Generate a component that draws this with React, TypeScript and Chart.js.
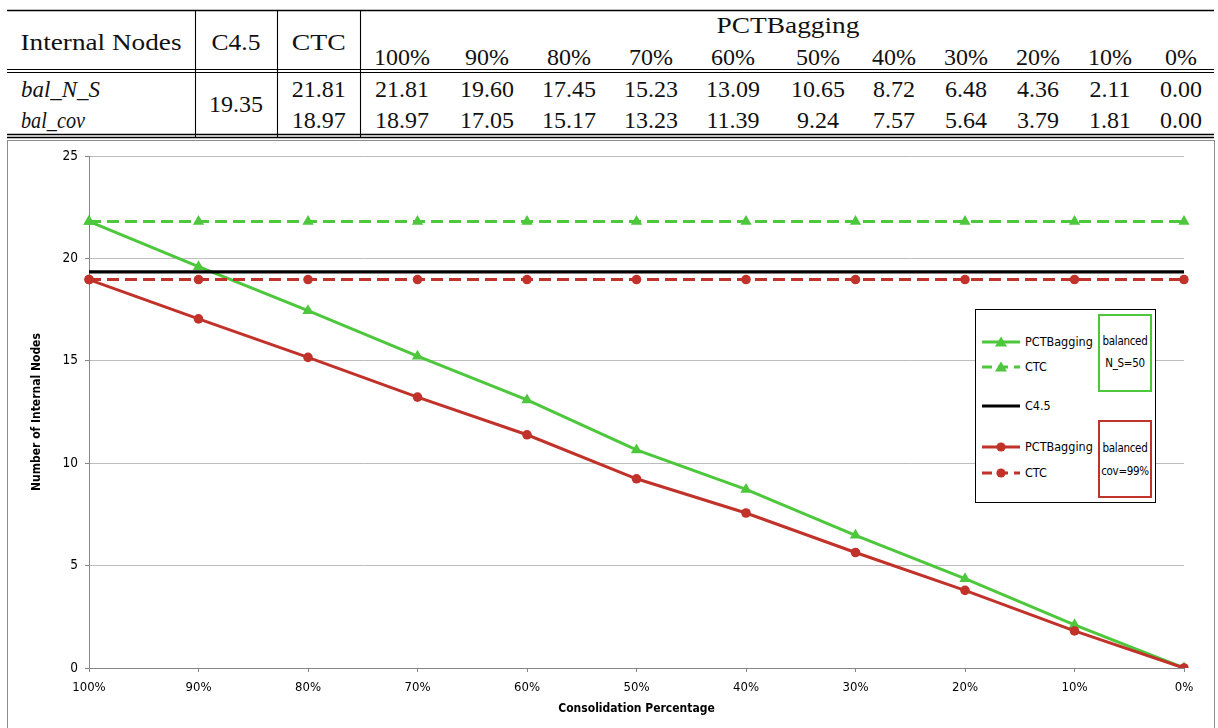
import React, { useEffect, useRef } from 'react';
import { Chart, registerables } from 'chart.js';
Chart.register(...registerables);

// ---------------- data ----------------
const categories = ['100%', '90%', '80%', '70%', '60%', '50%', '40%', '30%', '20%', '10%', '0%'];
const pctBaggingNS = [21.81, 19.6, 17.45, 15.23, 13.09, 10.65, 8.72, 6.48, 4.36, 2.11, 0.0];
const pctBaggingCov = [18.97, 17.05, 15.17, 13.23, 11.39, 9.24, 7.57, 5.64, 3.79, 1.81, 0.0];
const ctcNS = 21.81;
const ctcCov = 18.97;
const c45Value = 19.35;
const rowLabels = ['bal_N_S', 'bal_cov'];
const yTickValues = [0, 5, 10, 15, 20, 25];

// ---------------- style ----------------
const GREEN = '#4DC73C';
const RED = '#C0322A';
const AXIS = '#868686';
const GRID = '#BDBDBD';
const SANS = '"DejaVu Sans Condensed", "DejaVu Sans", sans-serif';
const SERIF = '"Liberation Serif", "DejaVu Serif", serif';

// table layout (page px)
const colX = [402, 487, 569, 651, 733, 818, 894, 966, 1038, 1110, 1181];

const fmt = (v: number) => v.toFixed(2);

function Table() {
  const hl = (y: number, w = 1) => (
    <line x1={7} x2={1214} y1={y} y2={y} stroke="#000" strokeWidth={w} />
  );
  const vl = (x: number) => <line x1={x} x2={x} y1={10} y2={138} stroke="#000" strokeWidth={1.1} />;
  const T = (p: any) => (
    <text fontFamily={SERIF} fontSize={24} fill="#111" {...p} />
  );
  return (
    <svg width={1218} height={140} style={{ position: 'absolute', left: 0, top: 0 }}>
      {hl(10.5, 1.7)}
      {hl(69.5)}
      {hl(72.5)}
      {hl(134.5, 1.4)}
      {hl(137.5, 1.4)}
      {vl(195.5)}
      {vl(277.5)}
      {vl(360.5)}
      <T x={101} y={50} textAnchor="middle" textLength={161} lengthAdjust="spacingAndGlyphs">Internal Nodes</T>
      <T x={236} y={50} textAnchor="middle" textLength={49} lengthAdjust="spacingAndGlyphs">C4.5</T>
      <T x={318.7} y={50} textAnchor="middle" textLength={54} lengthAdjust="spacingAndGlyphs">CTC</T>
      <T x={788} y={33} textAnchor="middle" textLength={143} lengthAdjust="spacingAndGlyphs">PCTBagging</T>
      {categories.map((c, i) => (
        <T key={c} x={colX[i]} y={65} textAnchor="middle">{c}</T>
      ))}
      <T x={21} y={96.7} fontStyle="italic" textLength={79} lengthAdjust="spacingAndGlyphs">{rowLabels[0]}</T>
      <T x={21} y={128.3} fontStyle="italic" textLength={64} lengthAdjust="spacingAndGlyphs">{rowLabels[1]}</T>
      <T x={236} y={112} textAnchor="middle">{fmt(c45Value)}</T>
      <T x={318.7} y={96.7} textAnchor="middle">{fmt(ctcNS)}</T>
      <T x={318.7} y={128.3} textAnchor="middle">{fmt(ctcCov)}</T>
      {pctBaggingNS.map((v, i) => (
        <T key={'a' + i} x={colX[i]} y={96.7} textAnchor="middle">{fmt(v)}</T>
      ))}
      {pctBaggingCov.map((v, i) => (
        <T key={'b' + i} x={colX[i]} y={128.3} textAnchor="middle">{fmt(v)}</T>
      ))}
    </svg>
  );
}

function Sample({ color, dash, marker }: { color: string; dash?: boolean; marker?: 'tri' | 'dot' }) {
  return (
    <svg width={40} height={16} style={{ position: 'absolute', left: 0, top: -8 }}>
      <line x1={1} x2={39} y1={8} y2={8} stroke={color} strokeWidth={3} strokeDasharray={dash ? '10 6' : undefined} />
      {marker === 'tri' && <polygon points="20,2.5 26,12.5 14,12.5" fill={color} />}
      {marker === 'dot' && <circle cx={20} cy={8} r={4.6} fill={color} />}
    </svg>
  );
}

function Legend() {
  const rows: { label: string; color: string; dash?: boolean; marker?: 'tri' | 'dot'; y: number }[] = [
    { label: 'PCTBagging', color: GREEN, marker: 'tri', y: 342 },
    { label: 'CTC', color: GREEN, dash: true, marker: 'tri', y: 367 },
    { label: 'C4.5', color: '#000', y: 406 },
    { label: 'PCTBagging', color: RED, marker: 'dot', y: 447 },
    { label: 'CTC', color: RED, dash: true, marker: 'dot', y: 473 },
  ];
  const txt: React.CSSProperties = { fontFamily: SANS, fontSize: 12.5, color: '#000', whiteSpace: 'nowrap', lineHeight: '16px' };
  const small: React.CSSProperties = { fontFamily: SANS, fontSize: 11.5, color: '#000', whiteSpace: 'nowrap', lineHeight: '14px', textAlign: 'center', letterSpacing: '-0.3px' };
  return (
    <>
      <div style={{ position: 'absolute', left: 975, top: 309, width: 181, height: 194, boxSizing: 'border-box', border: '1.5px solid #000', background: '#fff' }} />
      {rows.map((r, i) => (
        <div key={i} style={{ position: 'absolute', left: 981, top: r.y, width: 0, height: 0 }}>
          <Sample color={r.color} dash={r.dash} marker={r.marker} />
          <div style={{ ...txt, position: 'absolute', left: 44, top: -8 }}>{r.label}</div>
        </div>
      ))}
      <div style={{ position: 'absolute', left: 1098, top: 314, width: 54, height: 78, boxSizing: 'border-box', border: `2px solid ${GREEN}` }}>
        <div style={{ ...small, position: 'absolute', left: -4, right: -4, top: 18 }}>balanced</div>
        <div style={{ ...small, position: 'absolute', left: -4, right: -4, top: 40 }}>N_S=50</div>
      </div>
      <div style={{ position: 'absolute', left: 1098, top: 420, width: 54, height: 78, boxSizing: 'border-box', border: `2px solid ${RED}` }}>
        <div style={{ ...small, position: 'absolute', left: -4, right: -4, top: 19 }}>balanced</div>
        <div style={{ ...small, position: 'absolute', left: -4, right: -4, top: 42 }}>cov=99%</div>
      </div>
    </>
  );
}

export default function App() {
  const ref = useRef<HTMLCanvasElement | null>(null);
  useEffect(() => {
    if (!ref.current) return;
    const ctcNSLine = categories.map(() => ctcNS);
    const ctcCovLine = categories.map(() => ctcCov);
    const c45Line = categories.map(() => c45Value);
    const chart = new Chart(ref.current, {
      type: 'line',
      data: {
        labels: categories,
        datasets: [
          { label: 'PCTBagging cov', data: pctBaggingCov, borderColor: RED, backgroundColor: RED, borderWidth: 3, pointStyle: 'circle', pointRadius: 4.8, pointBorderWidth: 0, tension: 0 },
          { label: 'CTC cov', data: ctcCovLine, borderColor: RED, backgroundColor: RED, borderWidth: 3, borderDash: [12, 6], pointStyle: 'circle', pointRadius: 4.8, pointBorderWidth: 0 },
          { label: 'C4.5', data: c45Line, borderColor: '#000', backgroundColor: '#000', borderWidth: 3.2, pointRadius: 0 },
          { label: 'CTC N_S', data: ctcNSLine, borderColor: GREEN, backgroundColor: GREEN, borderWidth: 3, borderDash: [12, 6], pointStyle: 'triangle', pointRadius: 6.5, pointBorderWidth: 0 },
          { label: 'PCTBagging N_S', data: pctBaggingNS, borderColor: GREEN, backgroundColor: GREEN, borderWidth: 3, pointStyle: 'triangle', pointRadius: 6.5, pointBorderWidth: 0 },
        ],
      },
      options: {
        animation: false,
        responsive: false,
        events: [],
        layout: { padding: { top: 15, right: 29, bottom: 0, left: 0 } },
        plugins: { legend: { display: false }, tooltip: { enabled: false }, title: { display: false } },
        scales: {
          x: {
            type: 'category',
            offset: false,
            border: { color: AXIS, width: 1 },
            grid: { drawOnChartArea: false, drawTicks: true, tickLength: 4, tickColor: AXIS },
            ticks: { color: '#000', font: { family: SANS, size: 13 }, padding: 8, maxRotation: 0, autoSkip: false },
            title: { display: true, text: 'Consolidation Percentage', color: '#000', font: { family: SANS, size: 12, weight: 'bold' }, padding: { top: 0, bottom: 12 } },
            afterFit: (s: any) => { s.height = 60; },
          },
          y: {
            min: 0,
            max: 25,
            afterBuildTicks: (s: any) => { s.ticks = yTickValues.map((v) => ({ value: v })); },
            border: { color: AXIS, width: 1 },
            grid: { color: GRID, lineWidth: 1, drawTicks: true, tickLength: 4, tickColor: AXIS },
            ticks: { color: '#000', font: { family: SANS, size: 13.5 }, padding: 7 },
            title: { display: true, text: 'Number of Internal Nodes', color: '#000', font: { family: SANS, size: 12, weight: 'bold' }, padding: { top: 21.5, bottom: 0 } },
            afterFit: (s: any) => { s.width = 81; },
          },
        },
      },
    } as any);
    return () => chart.destroy();
  }, []);

  return (
    <div style={{ position: 'fixed', left: 0, top: 0, width: 1218, height: 728, overflow: 'hidden', background: '#fff' }}>
      <Table />
      <div style={{ position: 'absolute', left: 7, top: 140, width: 1208, height: 640, boxSizing: 'border-box', border: '1px solid #8C8C8C' }} />
      <canvas ref={ref} width={1205} height={587} style={{ position: 'absolute', left: 8, top: 141, width: 1205, height: 587, display: 'block' }} />
      <Legend />
    </div>
  );
}
